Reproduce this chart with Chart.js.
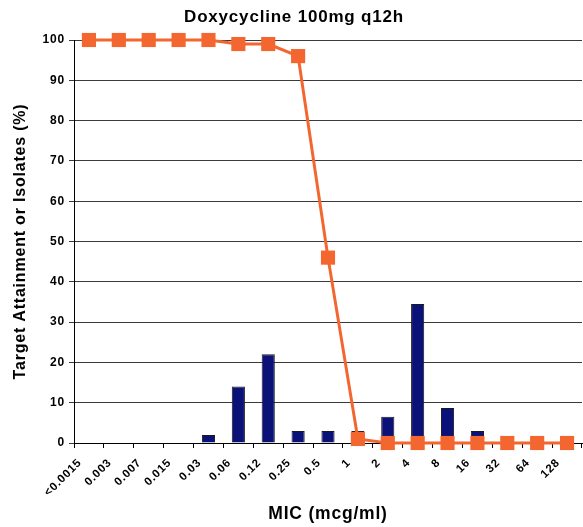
<!DOCTYPE html>
<html>
<head>
<meta charset="utf-8">
<script src="https://cdn.jsdelivr.net/npm/chart.js@4"></script>
<style>
  html, body { margin: 0; padding: 0; background: #fff; overflow: hidden; }
  #wrap { width: 592px; height: 527px; }
</style>
</head>
<body>
<div id="wrap"><canvas id="c" width="592" height="527"></canvas></div>
<script>
const categories = ['<0.0015', '0.003', '0.007', '0.015', '0.03', '0.06', '0.12', '0.25', '0.5', '1', '2', '4', '8', '16', '32', '64', '128'];
const isolates = [null, null, null, null, 2, 14, 22, 3, 3, 3, 6.5, 34.5, 8.7, 3, null, null, null];
const targetAttainment = [100, 100, 100, 100, 100, 99, 99, 96, 46, 1, 0, 0, 0, 0, 0, 0, 0];
const yTicks = [0, 10, 20, 30, 40, 50, 60, 70, 80, 90, 100];

const FONT = '"Liberation Sans", Arial, Helvetica, sans-serif';
const ORANGE = '#F4662F';
const NAVY = '#0A1178';
const SPACING = '0.8px';

const spacingPlugin = {
  id: 'spacing',
  beforeUpdate(chart) { chart.ctx.letterSpacing = SPACING; },
  beforeLayout(chart) { chart.ctx.letterSpacing = SPACING; },
  beforeDraw(chart) { chart.ctx.letterSpacing = SPACING; }
};

new Chart(document.getElementById('c'), {
  type: 'bar',
  plugins: [spacingPlugin],
  data: {
    labels: categories,
    datasets: [
      {
        type: 'line',
        label: 'Target Attainment',
        data: targetAttainment,
        borderColor: ORANGE,
        backgroundColor: ORANGE,
        borderWidth: 3,
        pointStyle: 'rect',
        pointRadius: 10,
        pointBorderWidth: 0,
        pointBackgroundColor: ORANGE,
        tension: 0,
        clip: false,
        order: 1
      },
      {
        type: 'bar',
        label: 'Isolates',
        data: isolates,
        backgroundColor: NAVY,
        borderColor: '#1a1a1a',
        borderWidth: 1,
        categoryPercentage: 1,
        barPercentage: 0.44,
        order: 2
      }
    ]
  },
  options: {
    responsive: false,
    animation: false,
    devicePixelRatio: 1,
    layout: { padding: { left: 0, right: 4, top: 0, bottom: 0 } },
    plugins: {
      legend: { display: false },
      tooltip: { enabled: false },
      title: {
        display: true,
        text: 'Doxycycline 100mg q12h',
        color: '#000',
        font: { family: FONT, size: 17, weight: 'bold' },
        padding: { top: 7.3, bottom: 12.3 }
      }
    },
    scales: {
      x: {
        offset: true,
        grid: { display: true, offset: true, drawOnChartArea: false, drawTicks: true, tickLength: 5, color: '#000', lineWidth: 1 },
        border: { display: true, color: '#000', width: 1 },
        ticks: {
          color: '#000',
          font: { family: FONT, size: 11.5, weight: 'bold' },
          minRotation: 45,
          maxRotation: 45,
          autoSkip: false,
          labelOffset: -9,
          padding: 8
        },
        title: {
          display: true,
          text: 'MIC (mcg/ml)',
          color: '#000',
          font: { family: FONT, size: 17.5, weight: 'bold' },
          padding: { top: 0, bottom: 2 }
        },
        afterFit: (s) => { s.height = 84; }
      },
      y: {
        min: 0,
        max: 100,
        afterBuildTicks: (s) => { s.ticks = yTicks.map(v => ({ value: v })); },
        grid: { color: '#3a3a3a', lineWidth: 1, drawTicks: true, tickLength: 5 },
        border: { display: true, color: '#000', width: 1 },
        ticks: {
          color: '#000',
          font: { family: FONT, size: 12, weight: 'bold' },
          padding: 4
        },
        title: {
          display: true,
          text: 'Target Attainment or Isolates (%)',
          color: '#000',
          font: { family: FONT, size: 16, weight: 'bold' },
          padding: { top: 10.9, bottom: 0 }
        },
        afterFit: (s) => { s.width = 74; }
      }
    }
  }
});
</script>
</body>
</html>
